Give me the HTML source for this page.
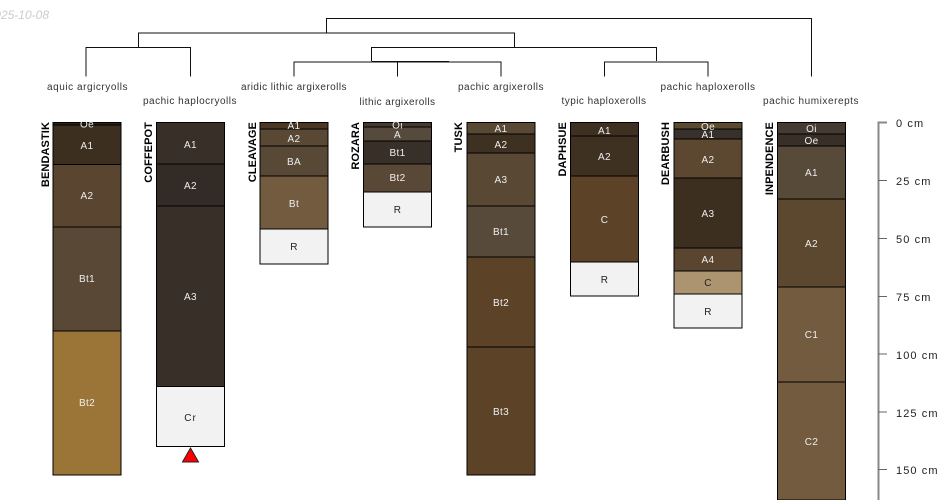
<!DOCTYPE html>
<html><head><meta charset="utf-8"><style>
html,body{margin:0;padding:0;background:#fff}
svg{display:block;font-family:"Liberation Sans",sans-serif;font-size:10px}
rect{stroke:#000;stroke-width:1}
.l{fill:#eee;text-anchor:middle;letter-spacing:.35px}
.d{fill:#222;text-anchor:middle;letter-spacing:.35px}
.t{fill:#333;text-anchor:middle;letter-spacing:.5px}
.n{font-weight:bold;fill:#000;text-anchor:end;font-size:11px;letter-spacing:.1px}
.a{fill:#222;font-size:11px;letter-spacing:1.1px}
path{fill:none;stroke:#111;stroke-width:1}
</style></head><body>
<svg width="950" height="500" viewBox="0 0 950 500">
<text x="49" y="19" font-style="italic" font-size="12" fill="#ccc" text-anchor="end">2025-10-08</text>

<path d="M326.5 33V18.5H811.5V76.5"/>
<path d="M138.5 47V33H514.5V47"/>
<path d="M86 76.5V47.5H190.5V76.5"/>
<path d="M371.5 61V47.5H656.5V61"/>
<path d="M294 76.5V62H501V76.5"/>
<path d="M371.5 61.5H449M397.5 76.5V61.5"/>
<path d="M604.5 76.5V62H708V76.5"/>

<text class="t" x="87.5" y="90" textLength="81">aquic argicryolls</text>
<text class="t" x="190" y="104" textLength="94">pachic haplocryolls</text>
<text class="t" x="294" y="90" textLength="106">aridic lithic argixerolls</text>
<text class="t" x="397.5" y="105" textLength="76">lithic argixerolls</text>
<text class="t" x="501" y="90" textLength="86">pachic argixerolls</text>
<text class="t" x="604" y="104" textLength="85">typic haploxerolls</text>
<text class="t" x="708" y="90" textLength="95">pachic haploxerolls</text>
<text class="t" x="811" y="104" textLength="96">pachic humixerepts</text>

<g>
<rect x="53" y="122.5" width="68" height="3" fill="#2a2418"/>
<rect x="53" y="125" width="68" height="39.5" fill="#3d2f20"/>
<rect x="53" y="164.5" width="68" height="62.5" fill="#5a4630"/>
<rect x="53" y="227" width="68" height="104" fill="#584835"/>
<rect x="53" y="331" width="68" height="144" fill="#9b7538"/>
<text class="l" x="87" y="127.5">Oe</text>
<text class="l" x="87" y="149">A1</text>
<text class="l" x="87" y="199">A2</text>
<text class="l" x="87" y="282">Bt1</text>
<text class="l" x="87" y="406">Bt2</text>
<text class="n" transform="translate(49,122) rotate(-90)">BENDASTIK</text>
</g>
<g>
<rect x="156.5" y="122.5" width="68" height="41.5" fill="#382f28"/>
<rect x="156.5" y="164" width="68" height="42" fill="#332c26"/>
<rect x="156.5" y="206" width="68" height="180.5" fill="#382f28"/>
<rect x="156.5" y="386.5" width="68" height="60" fill="#f2f2f2"/>
<text class="l" x="190.5" y="148">A1</text>
<text class="l" x="190.5" y="189">A2</text>
<text class="l" x="190.5" y="300">A3</text>
<text class="d" x="190.5" y="421" style="letter-spacing:1px">Cr</text>
<text class="n" transform="translate(152,122) rotate(-90)">COFFEPOT</text>
<polygon points="190.5,448 198.5,462 182.5,462" fill="#f00" stroke="#222" stroke-width="1"/>
</g>
<g>
<rect x="260" y="122.5" width="68" height="6.5" fill="#4a3825"/>
<rect x="260" y="129" width="68" height="17" fill="#594834"/>
<rect x="260" y="146" width="68" height="30" fill="#584937"/>
<rect x="260" y="176" width="68" height="53" fill="#725b3e"/>
<rect x="260" y="229" width="68" height="35" fill="#f2f2f2"/>
<text class="l" x="294" y="129">A1</text>
<text class="l" x="294" y="142">A2</text>
<text class="l" x="294" y="165">BA</text>
<text class="l" x="294" y="207">Bt</text>
<text class="d" x="294" y="250">R</text>
<text class="n" transform="translate(256,122) rotate(-90)">CLEAVAGE</text>
</g>
<g>
<rect x="363.5" y="122.5" width="68" height="4.5" fill="#463a2e"/>
<rect x="363.5" y="127" width="68" height="14" fill="#564a3c"/>
<rect x="363.5" y="141" width="68" height="23" fill="#382f28"/>
<rect x="363.5" y="164" width="68" height="28" fill="#5a4836"/>
<rect x="363.5" y="192" width="68" height="35" fill="#f2f2f2"/>
<text class="l" x="397.5" y="128.5">Oi</text>
<text class="l" x="397.5" y="138">A</text>
<text class="l" x="397.5" y="156">Bt1</text>
<text class="l" x="397.5" y="181">Bt2</text>
<text class="d" x="397.5" y="213">R</text>
<text class="n" transform="translate(359,122) rotate(-90)">ROZARA</text>
</g>
<g>
<rect x="467" y="122.5" width="68" height="11.5" fill="#594834"/>
<rect x="467" y="134" width="68" height="19" fill="#3f3122"/>
<rect x="467" y="153" width="68" height="53" fill="#594834"/>
<rect x="467" y="206" width="68" height="51" fill="#584a3a"/>
<rect x="467" y="257" width="68" height="90" fill="#5c4327"/>
<rect x="467" y="347" width="68" height="128" fill="#5c4327"/>
<text class="l" x="501" y="132">A1</text>
<text class="l" x="501" y="148">A2</text>
<text class="l" x="501" y="183">A3</text>
<text class="l" x="501" y="235">Bt1</text>
<text class="l" x="501" y="306">Bt2</text>
<text class="l" x="501" y="415">Bt3</text>
<text class="n" transform="translate(462,122) rotate(-90)">TUSK</text>
</g>
<g>
<rect x="570.5" y="122.5" width="68" height="13.5" fill="#3f3122"/>
<rect x="570.5" y="136" width="68" height="40" fill="#3f3122"/>
<rect x="570.5" y="176" width="68" height="86" fill="#5c4327"/>
<rect x="570.5" y="262" width="68" height="34" fill="#f2f2f2"/>
<text class="l" x="604.5" y="134">A1</text>
<text class="l" x="604.5" y="160">A2</text>
<text class="l" x="604.5" y="223">C</text>
<text class="d" x="604.5" y="283">R</text>
<text class="n" transform="translate(566,122) rotate(-90)">DAPHSUE</text>
</g>
<g>
<rect x="674" y="122.5" width="68" height="6.5" fill="#5c4a30"/>
<rect x="674" y="129" width="68" height="10" fill="#38302a"/>
<rect x="674" y="139" width="68" height="39" fill="#5c4730"/>
<rect x="674" y="178" width="68" height="70" fill="#3d2f20"/>
<rect x="674" y="248" width="68" height="23" fill="#5a4630"/>
<rect x="674" y="271" width="68" height="23" fill="#ac9471"/>
<rect x="674" y="294" width="68" height="34" fill="#f2f2f2"/>
<text class="l" x="708" y="130">Oe</text>
<text class="l" x="708" y="138">A1</text>
<text class="l" x="708" y="163">A2</text>
<text class="l" x="708" y="217">A3</text>
<text class="l" x="708" y="263">A4</text>
<text class="d" x="708" y="286">C</text>
<text class="d" x="708" y="315">R</text>
<text class="n" transform="translate(669,122) rotate(-90)">DEARBUSH</text>
</g>
<g>
<rect x="777.5" y="122.5" width="68" height="11.5" fill="#453b33"/>
<rect x="777.5" y="134" width="68" height="12" fill="#382f28"/>
<rect x="777.5" y="146" width="68" height="53" fill="#584a38"/>
<rect x="777.5" y="199" width="68" height="88" fill="#5c472f"/>
<rect x="777.5" y="287" width="68" height="95" fill="#725b3e"/>
<rect x="777.5" y="382" width="68" height="118" fill="#725b3e"/>
<text class="l" x="811.5" y="132">Oi</text>
<text class="l" x="811.5" y="144">Oe</text>
<text class="l" x="811.5" y="176">A1</text>
<text class="l" x="811.5" y="247">A2</text>
<text class="l" x="811.5" y="338">C1</text>
<text class="l" x="811.5" y="445">C2</text>
<text class="n" transform="translate(773,122) rotate(-90)">INPENDENCE</text>
</g>

<path style="stroke:#888;stroke-width:2" d="M887 122.5H878.5V500"/>
<path style="stroke:#666" d="M878 180.5H887M878 238.5H887M878 296.5H887M878 354H887M878 412H887M878 469.5H887"/>
<text class="a" x="896" y="127">0 cm</text>
<text class="a" x="896" y="185">25 cm</text>
<text class="a" x="896" y="243">50 cm</text>
<text class="a" x="896" y="301">75 cm</text>
<text class="a" x="896" y="359">100 cm</text>
<text class="a" x="896" y="417">125 cm</text>
<text class="a" x="896" y="474">150 cm</text>
</svg>
</body></html>
